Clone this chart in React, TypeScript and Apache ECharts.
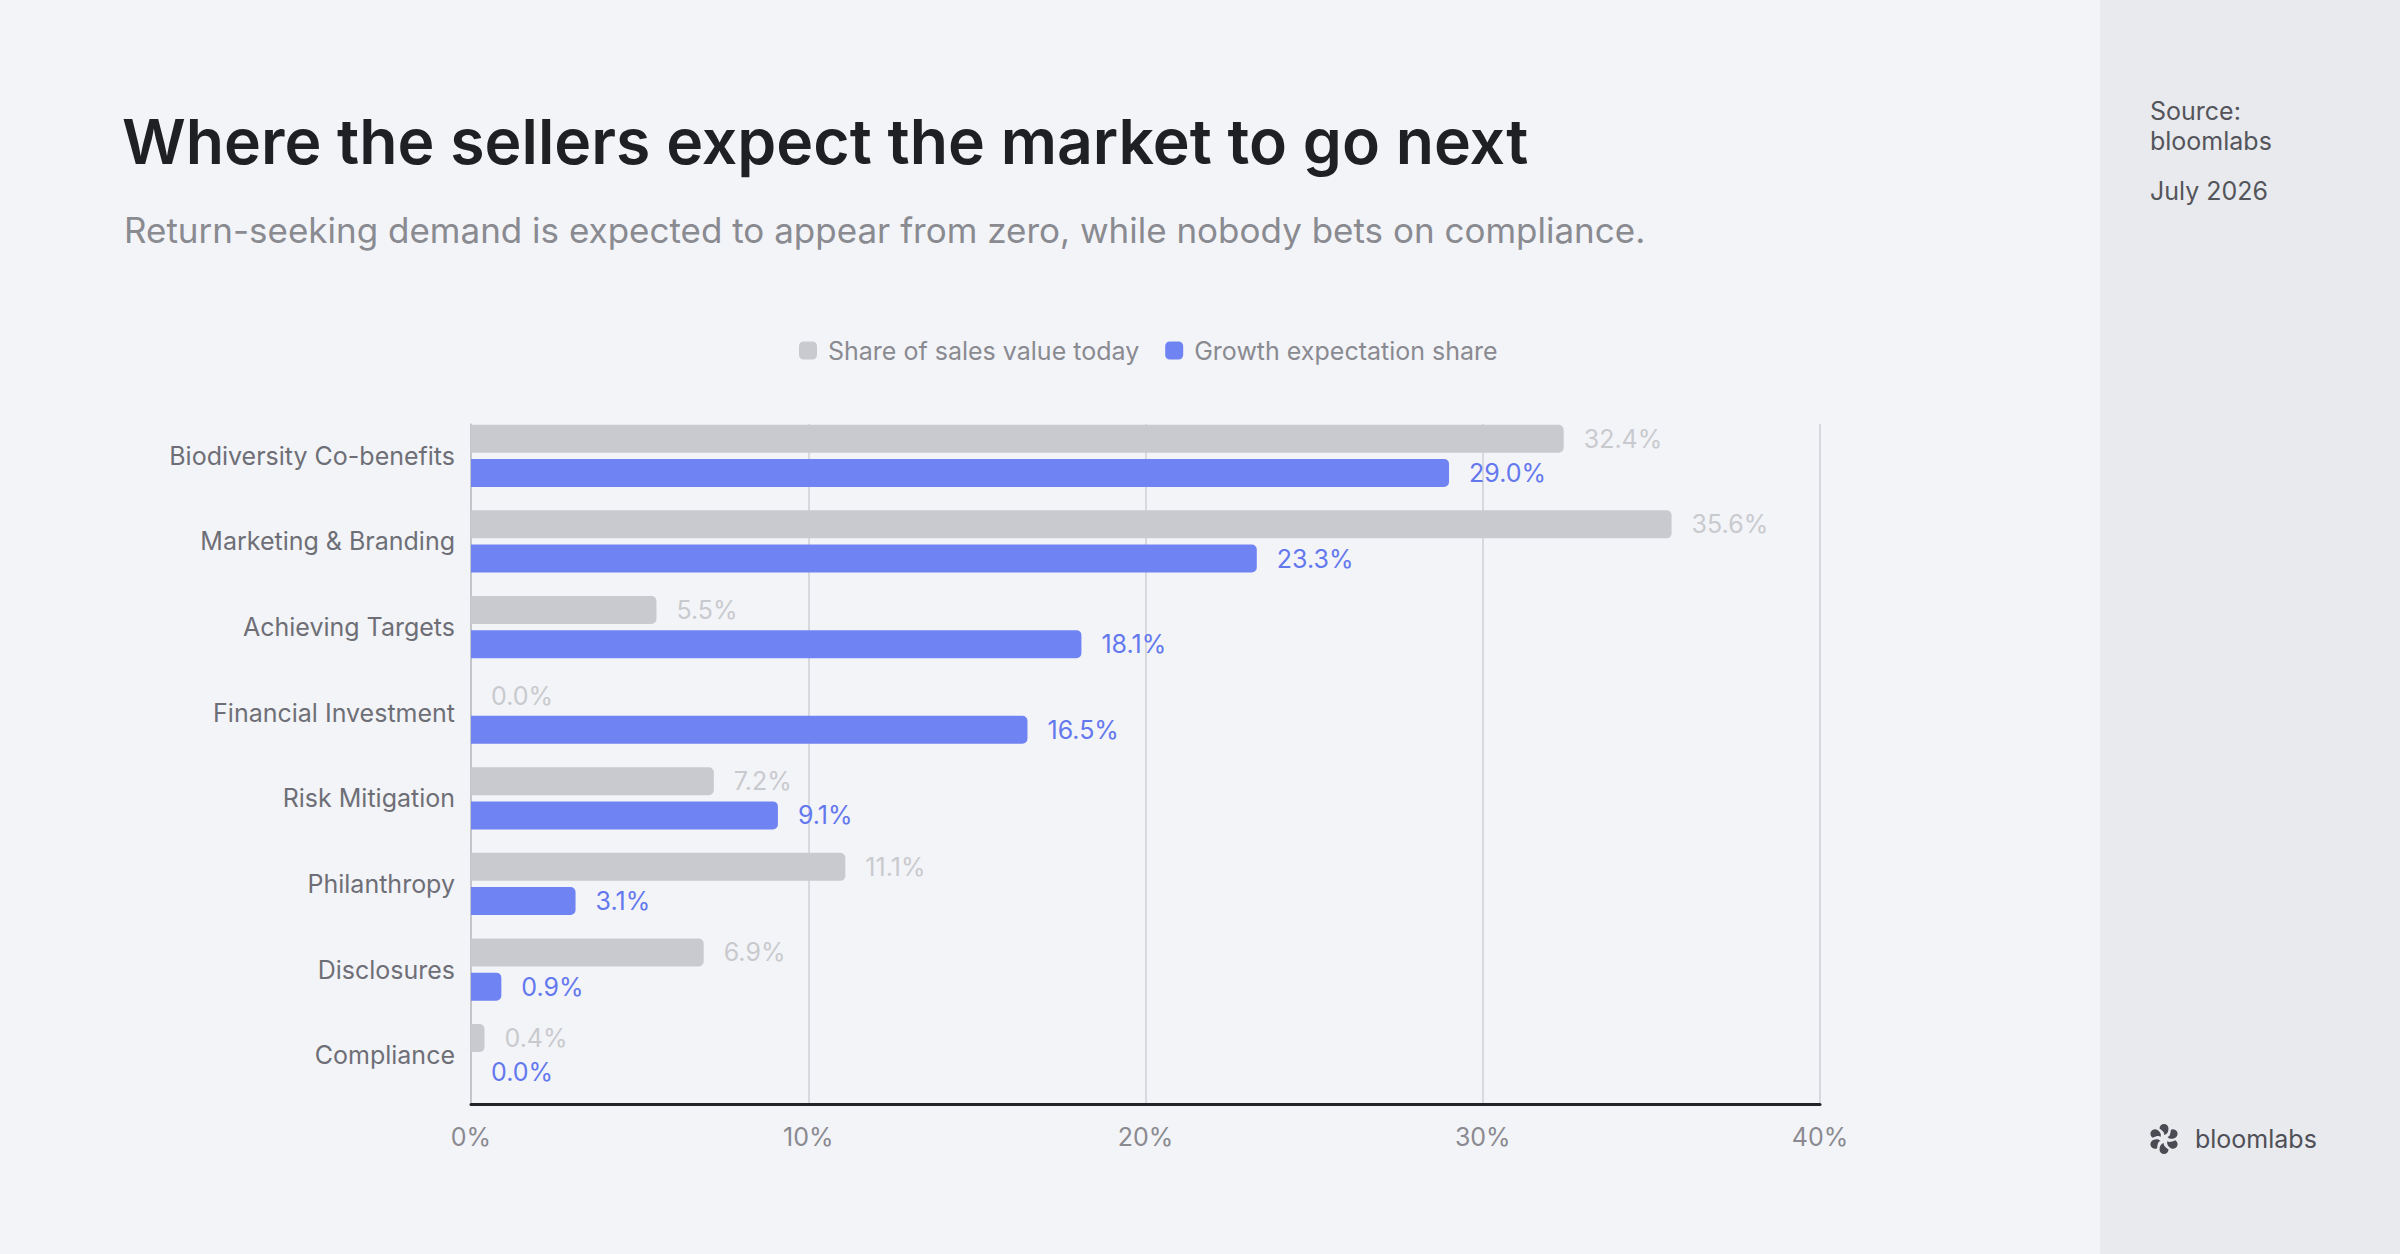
import React, { useEffect, useRef } from "react";
import * as echarts from "echarts";

// 数据
const categories = [
  "Biodiversity Co-benefits",
  "Marketing & Branding",
  "Achieving Targets",
  "Financial Investment",
  "Risk Mitigation",
  "Philanthropy",
  "Disclosures",
  "Compliance",
];
const shareToday = [32.4, 35.6, 5.5, 0.0, 7.2, 11.1, 6.9, 0.4];
const growthShare = [29.0, 23.3, 18.1, 16.5, 9.1, 3.1, 0.9, 0.0];
const seriesNames = ["Share of sales value today", "Growth expectation share"];
const axisMin = 0;
const axisMax = 40;
const axisStep = 10;

const FONT = "Inter, 'Noto Sans', sans-serif";
const GRAY = "#C9CACF";
const BLUE = "#7083F2";

// logo 花瓣
const petalPath =
  "M -4.5 -10.5 A 4.5 4.5 0 0 1 4.5 -10.5 C 4.5 -7 3 -4.5 0 -4 C 1 -6 -1 -8 -4.5 -10.5 Z";
echarts.graphic.registerShape("petal", echarts.graphic.extendPath(petalPath, {}));

const App: React.FC = () => {
  const chartRef = useRef<HTMLDivElement>(null);

  useEffect(() => {
    document.body.style.margin = "0";
    if (!chartRef.current) return;
    const chart = echarts.init(chartRef.current, null, { renderer: "svg" });

    const petals = [0, 1, 2, 3, 4, 5].map((k) => ({
      type: "petal",
      rotation: (k * Math.PI) / 3,
      style: { fill: "#4B4C53" },
    }));

    const options = {
      animation: false,
      backgroundColor: "#F3F4F8",
      textStyle: { fontFamily: FONT },
      legend: {
        left: 794,
        top: 333,
        itemWidth: 18,
        itemHeight: 18,
        itemGap: 26,
        icon: "roundRect",
        data: seriesNames,
        textStyle: {
          fontFamily: FONT,
          fontSize: 25,
          color: "#8A8A91",
          padding: [0, 0, 0, 6],
        },
      },
      grid: [
        { left: 471, top: 413, width: 1349, height: 685 },
        { left: 471, top: 424, width: 1349, height: 680 },
      ],
      xAxis: [
        {
          type: "value",
          gridIndex: 0,
          min: axisMin,
          max: axisMax,
          interval: axisStep,
          show: false,
        },
        {
          type: "value",
          gridIndex: 1,
          min: axisMin,
          max: axisMax,
          interval: axisStep,
          axisLine: { show: true, onZero: false, lineStyle: { color: "#222328", width: 3 } },
          axisTick: { show: false },
          splitLine: { show: true, lineStyle: { color: "#D8D9DE", width: 2 } },
          axisLabel: {
            formatter: "{value}%",
            fontFamily: FONT,
            fontSize: 25,
            color: "#8A8A90",
            margin: 20,
          },
        },
      ],
      yAxis: [
        {
          type: "category",
          gridIndex: 0,
          inverse: true,
          data: categories,
          axisLine: { show: false },
          axisTick: { show: false },
          axisLabel: {
            fontFamily: FONT,
            fontSize: 25,
            color: "#6E6F76",
            margin: 16,
          },
        },
        {
          type: "value",
          gridIndex: 1,
          min: 0,
          max: 1,
          axisLine: { show: true, onZero: false, lineStyle: { color: "#BDBEC3", width: 1.5 } },
          axisTick: { show: false },
          axisLabel: { show: false },
          splitLine: { show: false },
        },
      ],
      series: [
        {
          name: seriesNames[0],
          type: "bar",
          xAxisIndex: 0,
          yAxisIndex: 0,
          data: shareToday,
          barWidth: 28,
          barGap: "22%",
          itemStyle: { color: GRAY, borderRadius: [0, 5, 5, 0] },
          label: {
            show: true,
            position: "right",
            distance: 20,
            fontFamily: FONT,
            fontSize: 25,
            color: "#C9CACE",
            formatter: (p: any) => p.value.toFixed(1) + "%",
          },
        },
        {
          name: seriesNames[1],
          type: "bar",
          xAxisIndex: 0,
          yAxisIndex: 0,
          data: growthShare,
          barWidth: 28,
          itemStyle: { color: BLUE, borderRadius: [0, 5, 5, 0] },
          label: {
            show: true,
            position: "right",
            distance: 20,
            fontFamily: FONT,
            fontSize: 25,
            color: "#6478EE",
            formatter: (p: any) => p.value.toFixed(1) + "%",
          },
        },
      ],
      graphic: [
        {
          type: "rect",
          z: -10,
          shape: { x: 2100, y: 0, width: 300, height: 1254 },
          style: { fill: "#E9EAEE" },
        },
        {
          type: "text",
          x: 122,
          y: 141,
          style: {
            text: "Where the sellers expect the market to go next",
            fontFamily: FONT,
            fontSize: 62.5,
            fontWeight: 600,
            fill: "#1F2024",
            verticalAlign: "middle",
          },
        },
        {
          type: "text",
          x: 124,
          y: 230,
          style: {
            text: "Return-seeking demand is expected to appear from zero, while nobody bets on compliance.",
            fontFamily: FONT,
            fontSize: 35,
            fill: "#8A8A91",
            verticalAlign: "middle",
          },
        },
        {
          type: "text",
          x: 2150,
          y: 111,
          style: { text: "Source:", fontFamily: FONT, fontSize: 25, fill: "#54555B", verticalAlign: "middle" },
        },
        {
          type: "text",
          x: 2150,
          y: 141,
          style: { text: "bloomlabs", fontFamily: FONT, fontSize: 25, fill: "#54555B", verticalAlign: "middle" },
        },
        {
          type: "text",
          x: 2150,
          y: 191,
          style: { text: "July 2026", fontFamily: FONT, fontSize: 25, fill: "#54555B", verticalAlign: "middle" },
        },
        {
          type: "group",
          x: 2164,
          y: 1139,
          children: petals,
        },
        {
          type: "text",
          x: 2195,
          y: 1139,
          style: { text: "bloomlabs", fontFamily: FONT, fontSize: 25, fill: "#4F5057", verticalAlign: "middle" },
        },
      ],
    };

    chart.setOption(options as any);

    return () => {
      chart.dispose();
    };
  }, []);

  return (
    <div
      ref={chartRef}
      style={{ position: "absolute", left: 0, top: 0, width: "2400px", height: "1254px" }}
    ></div>
  );
};

export default App;
